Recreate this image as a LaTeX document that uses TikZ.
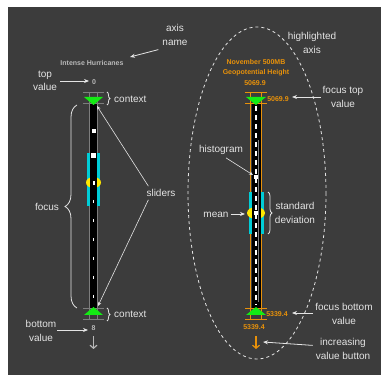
\documentclass[tikz,border=0pt]{standalone}
\usepackage{fontspec}
\setmainfont{Liberation Sans}
\usetikzlibrary{arrows.meta,decorations.pathreplacing}

\definecolor{bgdark}{RGB}{60,60,60}
\definecolor{lbltext}{RGB}{228,228,228}
\definecolor{axgray}{RGB}{125,125,125}
\definecolor{namegray}{RGB}{185,185,185}
\definecolor{axorange}{RGB}{232,145,10}
\definecolor{slidegreen}{RGB}{20,235,20}
\definecolor{sdcyan}{RGB}{0,205,215}
\definecolor{meanyellow}{RGB}{255,232,0}

\tikzset{
  lbl/.style={text=lbltext, font=\fontsize{10}{13.5}\selectfont, align=center, inner sep=0pt},
  axtext/.style={font=\fontsize{7}{10}\selectfont\bfseries, align=center, inner sep=0pt},
  pointer/.style={draw=lbltext, line width=0.8pt, -{Stealth[length=5pt,width=4pt]}},
  leader/.style={draw=lbltext, line width=0.6pt, -{Stealth[length=4pt,width=3.5pt]}},
  ctxbrace/.style={draw=lbltext, line width=0.8pt, decorate, decoration={brace, amplitude=3pt}},
  hilite/.style={draw=lbltext, line width=0.8pt, dash pattern=on 3pt off 3pt},
  incbutton/.style={line width=1.2pt, -{Straight Barb[length=3pt,width=7pt]}},
}

\begin{document}
\begin{tikzpicture}[x=1pt, y=-1pt]
  \useasboundingbox (0,0) rectangle (381,377);
  % Background
  \fill[white] (0,0) rectangle (381,377);
  \fill[bgdark] (8,7) rectangle (381,375);

  % Highlight ellipse
  \draw[hilite] (257,193) ellipse [x radius=69, y radius=166];

  % ---------------- Left axis ----------------
  % std deviation and mean
  \fill[sdcyan] (87,153) rectangle (90,206);
  \fill[sdcyan] (97,153) rectangle (100,206);
  \fill[meanyellow] (93.5,182.5) ellipse [x radius=7.5, y radius=5.5];
  % outline and bar
  \draw[axgray, line width=1pt] (89.5,92) -- (89.5,153);
  \draw[axgray, line width=1pt] (97.5,92) -- (97.5,153);
  \draw[axgray, line width=1pt] (89.5,206) -- (89.5,320);
  \draw[axgray, line width=1pt] (97.5,206) -- (97.5,320);
  \fill[black] (90,104) rectangle (97,308);
  % histogram marks
  \fill[white] (91.5,129) rectangle (95.5,133);
  \fill[white] (91,153) rectangle (96,158);
  \fill[white] (92.5,181) rectangle (94.5,185);
  \draw[white, line width=1.5pt, dash pattern=on 3pt off 16pt] (93.5,200) -- (93.5,305);
  % context lines
  \draw[axgray, line width=1.5pt] (83,92.5) -- (104,92.5);
  \draw[axgray, line width=1.5pt] (83,103.5) -- (104,103.5);
  \draw[axgray, line width=1.5pt] (83,308.5) -- (104,308.5);
  \draw[axgray, line width=1.5pt] (83,319.5) -- (104,319.5);
  % sliders
  \fill[slidegreen] (84,97) -- (103,97) -- (93.5,105) -- cycle;
  \fill[slidegreen] (84,315) -- (103,315) -- (93.5,307) -- cycle;

  % axis name and values
  \node[axtext, text=namegray] (lname) at (92,63) {Intense Hurricanes};
  \node[axtext, text=namegray] (ltop) at (94,82) {0};
  \node[axtext, text=namegray] (lbot) at (93.5,328) {8};
  \coordinate (ldnA) at (93.5,336);
  \coordinate (ldnB) at (93.5,349);
  \draw[incbutton, draw=namegray] (ldnA) -- (ldnB);

  % ---------------- Right axis ----------------
  \draw[axorange, line width=1.8pt] (250.5,92) -- (250.5,320);
  \draw[axorange, line width=1.8pt] (261.5,92) -- (261.5,320);
  \fill[sdcyan] (248.5,192) rectangle (252,234);
  \fill[sdcyan] (260,192) rectangle (263.5,234);
  \fill[meanyellow] (256,213) ellipse [x radius=9, y radius=6];
  \fill[black] (251.5,104) rectangle (260.5,308);
  % histogram marks
  \draw[axgray, line width=0.8pt] (258,140) -- (258,302);
  \draw[white, line width=1.2pt, dash pattern=on 5pt off 4pt] (256,106) -- (256,305);
  \fill[white] (254,175) rectangle (258,179);
  \fill[white] (254,211) rectangle (258,215);
  % context lines
  \draw[axorange, line width=1.5pt] (245,92.5) -- (267,92.5);
  \draw[axorange, line width=1.5pt] (245,103.5) -- (267,103.5);
  \draw[axorange, line width=1.5pt] (245,308.5) -- (267,308.5);
  \draw[axorange, line width=1.5pt] (245,319.5) -- (267,319.5);
  % sliders
  \fill[slidegreen] (246,97) -- (266,97) -- (256,105) -- cycle;
  \fill[slidegreen] (246,315) -- (266,315) -- (256,307) -- cycle;

  % axis name and values
  \node[axtext, text=axorange] (rname) at (256,68) {November 500MB\\Geopotential Height};
  \node[axtext, text=axorange] (rtop) at (255,83) {5069.9};
  \node[axtext, text=axorange] (rfocustop) at (278,99) {5069.9};
  \node[axtext, text=axorange] (rfocusbot) at (277,314) {5339.4};
  \node[axtext, text=axorange] (rbot) at (254,327) {5339.4};
  \coordinate (rdnA) at (256,336);
  \coordinate (rdnB) at (256,349);
  \draw[incbutton, draw=axorange] (rdnA) -- (rdnB);

  % ---------------- Annotations ----------------
  \node[lbl] (axisname) at (175,35) {axis\\name};
  \node[lbl] (topvalue) at (45,81) {top\\value};
  \node[lbl] (botvalue) at (41,331) {bottom\\value};
  \node[lbl, anchor=west] (ctxtop) at (114,99) {context};
  \node[lbl, anchor=west] (ctxbot) at (114,314) {context};
  \node[lbl] (focus) at (47,207) {focus};
  \node[lbl] (sliders) at (161,193) {sliders};
  \node[lbl] (highlighted) at (312,43) {highlighted\\axis};
  \node[lbl] (focustop) at (343,97) {focus top\\value};
  \node[lbl] (histogram) at (221,150) {histogram};
  \node[lbl] (mean) at (216,215) {mean};
  \node[lbl] (stddev) at (295,213) {standard\\deviation};
  \node[lbl] (focusbot) at (344,314) {focus bottom\\value};
  \node[lbl] (incbtn) at (343,349) {increasing\\value button};

  % braces
  \draw[ctxbrace] (107,92) -- (107,105);
  \draw[ctxbrace] (107,308) -- (107,321);
  \draw[ctxbrace, decoration={brace, amplitude=12pt}] (77,308) -- (77,105);
  \draw[ctxbrace, decoration={brace, amplitude=4pt}] (268,192) -- (268,234);

  % pointers
  \coordinate (lnametip) at (130,57);
  \coordinate (ltoptip) at (89,81);
  \coordinate (lbottip) at (88,330);
  \coordinate (sltop) at (97,106);
  \coordinate (slbot) at (98,306);
  \coordinate (histtip) at (253,175);
  \coordinate (meantip) at (245,214);
  \coordinate (ftoptip) at (292,97);
  \coordinate (fbottip) at (292,313);
  \coordinate (inctip) at (263,342);
  \draw[pointer] (axisname.south west) ++(-4,4) -- (lnametip);
  \draw[pointer] (topvalue.east) ++(3,0) -- (ltoptip);
  \draw[pointer] (botvalue.east) ++(1,-1) -- (lbottip);
  \draw[leader] (sliders.north west) ++(2,-3) -- (sltop);
  \draw[leader] (sliders.south west) ++(2,3) -- (slbot);
  \draw[leader] (histogram.south) ++(5,3) -- (histtip);
  \draw[pointer] (mean.east) ++(2,-1) -- (meantip);
  \draw[pointer] (focustop.west) ++(-2,0) -- (ftoptip);
  \draw[pointer] (focusbot.west) ++(-2,-1) -- (fbottip);
  \draw[pointer] (incbtn.north west) ++(-3,7) -- (inctip);
\end{tikzpicture}
\end{document}
